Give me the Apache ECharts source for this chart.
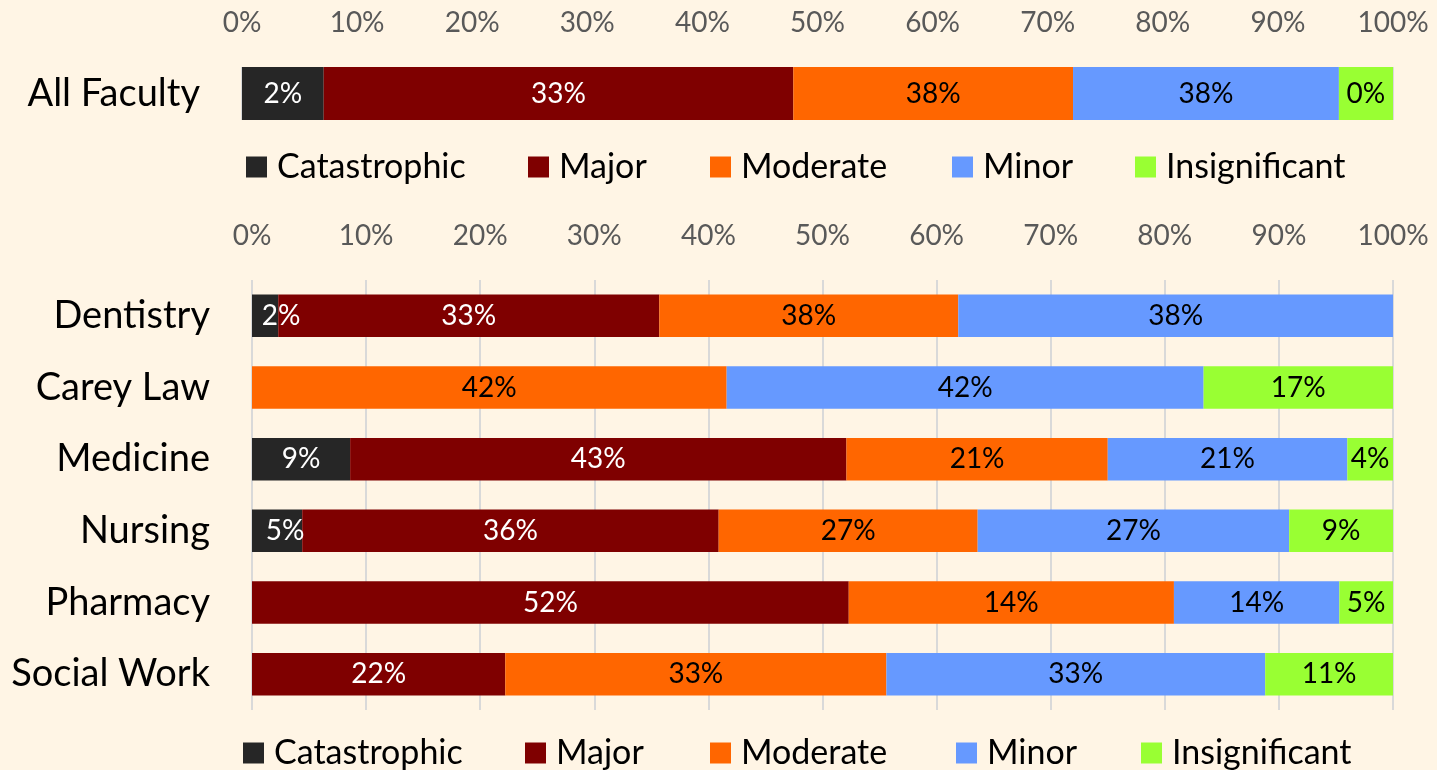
<!DOCTYPE html>
<html>
<head>
<meta charset="utf-8">
<script src="https://cdn.jsdelivr.net/npm/echarts@6/dist/echarts.min.js"></script>
<style>
html,body{margin:0;padding:0;background:#fff5e5;}
#c{width:1437px;height:770px;}
</style>
</head>
<body>
<div id="c"></div>
<script>
// ---- data ----
const seriesNames = ['Catastrophic', 'Major', 'Moderate', 'Minor', 'Insignificant'];
const tickValues = [0, 10, 20, 30, 40, 50, 60, 70, 80, 90, 100];

const overallCategories = ['All Faculty'];
const overallCatastrophic = [7.1];
const overallMajor = [40.8];
const overallModerate = [24.3];
const overallMinor = [23.1];
const overallInsignificant = [4.7];
const overallCatastrophicLabels = ['2%'];
const overallMajorLabels = ['33%'];
const overallModerateLabels = ['38%'];
const overallMinorLabels = ['38%'];
const overallInsignificantLabels = ['0%'];

const categories = ['Dentistry', 'Carey Law', 'Medicine', 'Nursing', 'Pharmacy', 'Social Work'];
const catastrophic = [2.3, 0, 8.6, 4.4, 0, 0];
const major = [33.4, 0, 43.5, 36.5, 52.3, 22.2];
const moderate = [26.2, 41.6, 22.9, 22.7, 28.5, 33.4];
const minor = [38.1, 41.8, 21.0, 27.3, 14.5, 33.2];
const insignificant = [0, 16.6, 4.0, 9.1, 4.7, 11.2];
const catastrophicLabels = ['2%', '', '9%', '5%', '', ''];
const majorLabels = ['33%', '', '43%', '36%', '52%', '22%'];
const moderateLabels = ['38%', '42%', '21%', '27%', '14%', '33%'];
const minorLabels = ['38%', '42%', '21%', '27%', '14%', '33%'];
const insignificantLabels = ['', '17%', '4%', '9%', '5%', '11%'];

// ---- style ----
const colors = ['#262626', '#7f0000', '#ff6600', '#6699ff', '#99ff33'];
const labelColors = ['#ffffff', '#ffffff', '#000000', '#000000', '#000000'];
const FONT = 'Lato';

const topValues = [overallCatastrophic, overallMajor, overallModerate, overallMinor, overallInsignificant];
const topLabels = [overallCatastrophicLabels, overallMajorLabels, overallModerateLabels, overallMinorLabels, overallInsignificantLabels];
const botValues = [catastrophic, major, moderate, minor, insignificant];
const botLabels = [catastrophicLabels, majorLabels, moderateLabels, minorLabels, insignificantLabels];

// narrow first segments: nudge label right so it starts inside the bar
function labelShift(v, i) {
  if (i !== 0) return 0;
  if (v < 3) return 16;
  if (v < 5) return 8;
  return 0;
}

function makeSeries(values, labels, idx, stackName) {
  return seriesNames.map((name, i) => ({
    name: name,
    type: 'bar',
    stack: stackName,
    xAxisIndex: idx,
    yAxisIndex: idx,
    data: values[i].map(v => {
      const s = labelShift(v, i);
      return s ? { value: v, label: { offset: [s, 0] } } : v;
    }),
    itemStyle: { color: colors[i] },
    barCategoryGap: idx === 0 ? '0%' : '40.7%',
    label: {
      show: true,
      position: 'inside',
      fontFamily: FONT,
      fontSize: 28,
      color: labelColors[i],
      formatter: p => labels[i][p.dataIndex]
    },
    emphasis: { disabled: true }
  }));
}

function xAxisFor(idx) {
  return {
    type: 'value',
    gridIndex: idx,
    position: 'top',
    min: 0,
    max: 100,
    interval: 10,
    axisLine: { show: false },
    axisTick: { show: false },
    axisLabel: {
      fontFamily: FONT,
      fontSize: 28,
      color: '#595959',
      margin: 30,
      formatter: v => tickValues.indexOf(v) >= 0 ? v + '%' : ''
    },
    splitLine: { show: true, lineStyle: { color: '#d9d9d9', width: 2 } }
  };
}

function yAxisFor(idx, cats) {
  return {
    type: 'category',
    gridIndex: idx,
    inverse: true,
    data: cats,
    axisLine: { show: false },
    axisTick: { show: false },
    axisLabel: { fontFamily: FONT, fontSize: 38, color: '#000000', margin: 42 }
  };
}

const legendTopX = [246, 528, 710, 952, 1135];
const legendBotX = [243, 525, 710, 956, 1141];
const legends = [];
seriesNames.forEach((n, i) => {
  [[legendTopX, 150], [legendBotX, 736]].forEach(([xs, top]) => {
    legends.push({
      data: [n],
      left: xs[i],
      top: top,
      icon: 'rect',
      itemWidth: 21,
      itemHeight: 21,
      padding: 0,
      selectedMode: false,
      textStyle: { fontFamily: FONT, fontSize: 34, color: '#000000', padding: [0, 0, 0, 5] }
    });
  });
});

const chart = echarts.init(document.getElementById('c'));
chart.setOption({
  backgroundColor: '#fff5e5',
  animation: false,
  legend: legends,
  grid: [
    { left: 242, top: 67, width: 1151, height: 53 },
    { left: 252, top: 280, width: 1141, height: 430 }
  ],
  xAxis: [xAxisFor(0), xAxisFor(1)],
  yAxis: [yAxisFor(0, overallCategories), yAxisFor(1, categories)],
  series: makeSeries(topValues, topLabels, 0, 'top').concat(makeSeries(botValues, botLabels, 1, 'bot'))
});
</script>
</body>
</html>
